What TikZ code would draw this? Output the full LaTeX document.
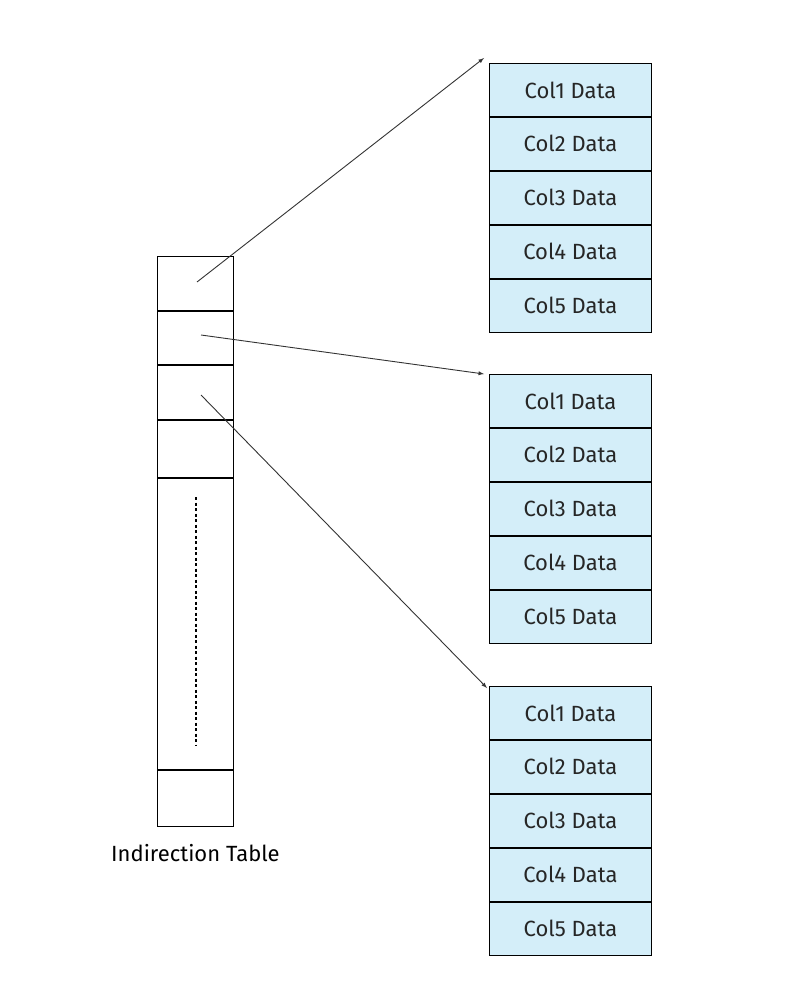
\documentclass[tikz,border=0pt]{standalone}
\usepackage{fontspec}
\setmainfont{Fira Sans}
\usetikzlibrary{positioning}
\definecolor{cellblue}{HTML}{D4EEF9}
\tikzset{
  cell/.style={draw,fill=cellblue,minimum width=162pt,minimum height=53pt,inner sep=0pt,font=\fontsize{22}{24}\selectfont\color{black!85}},
  slot/.style={draw,minimum width=76pt,inner sep=0pt},
  ptr/.style={-latex,black!80,line width=0.9pt}
}
\begin{document}
\begin{tikzpicture}[x=1pt,y=-1pt,line width=0.9pt]
  \useasboundingbox (0,0) rectangle (790,1008);
  % indirection table
  \node[slot,minimum height=54pt,anchor=north west] (t1) at (157,256) {};
  \node[slot,minimum height=53pt,below=0pt of t1] (t2) {};
  \node[slot,minimum height=54pt,below=0pt of t2] (t3) {};
  \node[slot,minimum height=57pt,below=0pt of t3] (t4) {};
  \node[slot,minimum height=291pt,below=0pt of t4] (t5) {};
  \node[slot,minimum height=56pt,below=0pt of t5] (t6) {};
  \draw[dash pattern=on 3pt off 2.5pt,line width=1.4pt] (196,497) -- (196,745);
  \node[font=\fontsize{22}{24}\selectfont,below=14pt of t6] (title) {Indirection Table};
  % data blocks
  \foreach \b/\top in {1/63,2/374,3/686} {
    \node[cell,anchor=north west] (b\b r1) at (489,\top) {Col1 Data};
    \foreach \r [count=\p] in {2,...,5}
      \node[cell,below=0pt of b\b r\p] (b\b r\r) {Col\r{} Data};
  }
  % pointers
  \coordinate (p1) at (197,282);
  \coordinate (p2) at (201,335);
  \coordinate (p3) at (201,395);
  \draw[ptr] (p1) -- ([xshift=-5pt,yshift=5pt]b1r1.north west);
  \draw[ptr] (p2) -- ([xshift=-5pt]b2r1.north west);
  \draw[ptr] (p3) -- ([xshift=-2pt,yshift=-2pt]b3r1.north west);
\end{tikzpicture}
\end{document}
